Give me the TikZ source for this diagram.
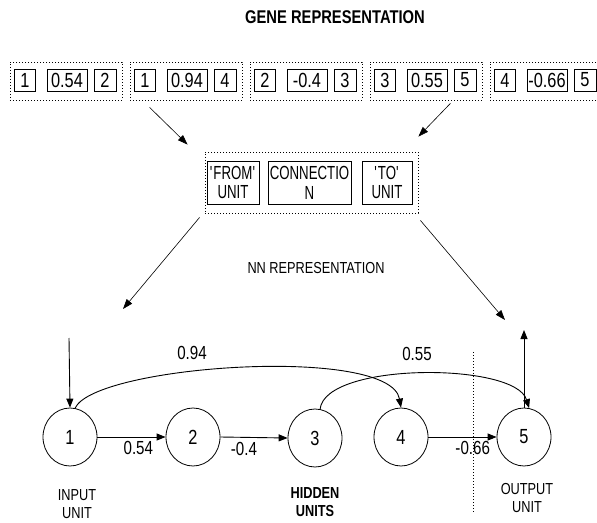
\documentclass[tikz,border=0pt]{standalone}
\usepackage{fontspec}
\setmainfont{Liberation Sans}
\newfontfamily\narrowfont[FakeStretch=0.8]{Liberation Sans}
\newfontfamily\tightfont[FakeStretch=0.7]{Liberation Sans}
\usetikzlibrary{arrows.meta,shapes.geometric,positioning}

\begin{document}
\begin{tikzpicture}[
    x=1bp, y=-1bp,
    genebox/.style={draw, line width=0.8bp, inner sep=0pt,
                    minimum height=22bp,
                    font=\narrowfont\fontsize{20.5}{22}\selectfont},
    dotbox/.style={draw, line width=0.8bp, dash pattern=on 0.9bp off 2.1bp,
                   inner sep=0pt},
    partbox/.style={draw, line width=0.8bp, inner sep=0pt,
                    minimum height=43bp, align=center,
                    font=\tightfont\fontsize{19}{20}\selectfont},
    unit/.style={draw, ellipse, line width=0.8bp, minimum width=54bp,
                 minimum height=58bp, inner sep=0pt,
                 font=\narrowfont\fontsize{20.5}{22}\selectfont},
    link/.style={-{Triangle[length=9bp,width=7bp]}, line width=0.9bp},
    map/.style={-{Triangle[length=10bp,width=7bp]}, line width=0.6bp},
    wlabel/.style={font=\narrowfont\fontsize{19}{20}\selectfont,
                   inner sep=1bp},
    caption/.style={font=\narrowfont\fontsize{16}{18}\selectfont,
                    align=center}
]
\useasboundingbox (0,0) rectangle (597,523);
\clip (0,0) rectangle (597,523);

% Titles
\node[font=\narrowfont\bfseries\fontsize{18.5}{20}\selectfont] (title)
    at (335,17) {GENE REPRESENTATION};
\node[caption] (nntitle) at (316,268) {NN REPRESENTATION};

% Gene string: one group per connection
\foreach \gx/\from/\wt/\to [count=\i] in
    {10/1/0.54/2, 130/1/0.94/4, 250/2/-0.4/3, 370/3/0.55/5, 490/4/-0.66/5}{
  \node[dotbox, minimum width=112bp, minimum height=38bp] (grp\i)
      at (\gx+56,81) {};
  \node[genebox, minimum width=21bp] (gf\i) at (\gx+15,80) {\from};
  \node[genebox, minimum width=40bp] (gw\i) at (\gx+57,80) {\wt};
  \node[genebox, minimum width=22bp] (gt\i) at (\gx+95,80) {\to};
}

% Decoded gene
\node[dotbox, minimum width=213bp, minimum height=61bp] (gene)
    at (311.5,182.5) {};
\node[partbox, minimum width=52bp] (fromunit) at (233,182.5)
    {\textquotesingle FROM\textquotesingle\\UNIT};
\node[partbox, minimum width=83bp] (conn) at (309.5,182.5)
    {CONNECTIO\\N};
\node[partbox, minimum width=50bp] (tounit) at (387,182.5)
    {\textquotesingle TO\textquotesingle\\UNIT};

\draw[map] ([xshift=20bp,yshift=-7bp]grp2.south west)
    -- ([xshift=-17bp,yshift=7bp]gene.north west);
\draw[map] ([xshift=-32bp,yshift=-3bp]grp4.south east)
    -- ([yshift=15bp]gene.north east);

\coordinate (inlet) at (123,309);
\coordinate (outlet) at (505,320);
\draw[map] ([xshift=-5bp,yshift=-4bp]gene.south west) -- (inlet);
\draw[map] ([xshift=2bp,yshift=-7bp]gene.south east) -- (outlet);

% Network
\node[unit] (n1) at (70,437) {1};
\node[unit] (n2) at (193,437) {2};
\node[unit] (n3) at (315,438) {3};
\node[unit] (n4) at (401,437) {4};
\node[unit] (n5) at (524,437) {5};

\draw[dash pattern=on 0.9bp off 2.1bp, line width=0.8bp]
    (473,352) -- (473,512);

\draw[link] (n1.east) -- node[wlabel, below=3bp, pos=0.6] {0.54} (n2.west);
\draw[link] (n2.east) -- node[wlabel, below=3bp, pos=0.35] {-0.4} (n3.west);
\draw[link] (n4.east) -- node[wlabel, below=3bp, pos=0.65] {-0.66} (n5.west);

\draw[link] (n1.80) .. controls (95,365) and (390,345) .. (n4.north);
\draw[link] (n3.80) .. controls (325,362) and (515,362) .. (n5.80);
\node[wlabel] (w14) at (192,353) {0.94};
\node[wlabel] (w35) at (417,354) {0.55};

\coordinate (netin) at (69,338);
\coordinate (netout) at (524,330);
\draw[link] (netin) -- (n1.north);
\draw[link] (n5.north) -- (netout);

% Layer captions
\node[caption] (incap) at (77,504) {INPUT\\UNIT};
\node[caption, font=\narrowfont\bfseries\fontsize{16}{18}\selectfont]
    (hidcap) at (315,502) {HIDDEN\\UNITS};
\node[caption] (outcap) at (527,498) {OUTPUT\\UNIT};

\end{tikzpicture}
\end{document}
